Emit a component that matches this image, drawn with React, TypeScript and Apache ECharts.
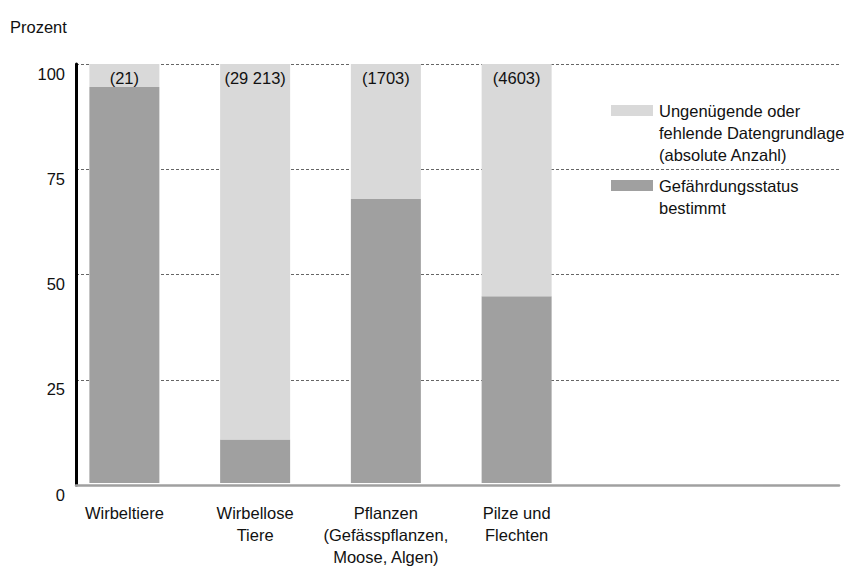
import React, { useEffect, useRef } from "react";
import * as echarts from "echarts";

const categories = [
  "Wirbeltiere",
  "Wirbellose\nTiere",
  "Pflanzen\n(Gefässpflanzen,\nMoose, Algen)",
  "Pilze und\nFlechten",
];
const statusKnown = [94.5, 10.4, 67.8, 44.6];
const insufficient = [5.5, 89.6, 32.2, 55.4];
const counts = ["(21)", "(29 213)", "(1703)", "(4603)"];
const yTicks = [0, 25, 50, 75, 100];
const legendNames = [
  "Ungenügende oder\nfehlende Datengrundlage\n(absolute Anzahl)",
  "Gefährdungsstatus\nbestimmt",
];

const FONT = "'Liberation Sans', Arial, sans-serif";
const FS = 16.5;
const LIGHT = "#d9d9d9";
const DARK = "#a0a0a0";

export default function App() {
  const ref = useRef<HTMLDivElement>(null);
  useEffect(() => {
    if (!ref.current) return;
    const chart = echarts.init(ref.current, undefined, { renderer: "svg" });
    const top = 64;
    const bottom = 83;
    chart.setOption({
      animation: false,
      textStyle: { fontFamily: FONT },
      grid: [
        { left: 76, right: 5, top, bottom, containLabel: false },
        { left: 59, width: 523, top, bottom, containLabel: false },
      ],
      xAxis: [
        {
          gridIndex: 0,
          type: "category",
          data: [""],
          axisLine: { show: true, lineStyle: { color: DARK, width: 2.5 } },
          axisTick: { show: false },
          axisLabel: { show: false },
        },
        {
          gridIndex: 1,
          type: "category",
          data: categories,
          axisLine: { show: false },
          axisTick: { show: false },
          axisLabel: {
            color: "#111",
            fontSize: FS,
            lineHeight: 22,
            margin: 19,
            fontFamily: FONT,
            interval: 0,
          },
        },
      ],
      yAxis: [
        {
          gridIndex: 0,
          type: "value",
          min: yTicks[0],
          max: yTicks[yTicks.length - 1],
          interval: 25,
          axisLine: { show: true, lineStyle: { color: "#000", width: 3 } },
          axisTick: { show: false },
          axisLabel: {
            color: "#111",
            fontSize: FS,
            margin: 11,
            verticalAlign: "top",
            padding: [1, 0, 0, 0],
            fontFamily: FONT,
          },
          splitLine: {
            show: true,
            lineStyle: { color: "#666", type: [3, 2], width: 1 },
          },
        },
        {
          gridIndex: 1,
          type: "value",
          min: 0,
          max: 100,
          show: false,
        },
      ],
      series: [
        {
          name: legendNames[1],
          type: "bar",
          xAxisIndex: 1,
          yAxisIndex: 1,
          stack: "total",
          barWidth: 70,
          itemStyle: { color: DARK },
          data: statusKnown,
        },
        {
          name: legendNames[0],
          type: "bar",
          xAxisIndex: 1,
          yAxisIndex: 1,
          stack: "total",
          barWidth: 70,
          itemStyle: { color: LIGHT },
          data: insufficient,
          label: {
            show: true,
            position: "insideTop",
            distance: 5,
            color: "#111",
            fontSize: FS,
            fontFamily: FONT,
            formatter: (p: any) => counts[p.dataIndex],
          },
        },
      ],
      graphic: [
        {
          type: "text",
          left: 10,
          top: 18,
          style: { text: "Prozent", fontSize: FS, fontFamily: FONT, fill: "#111" },
        },
        {
          type: "rect",
          shape: { x: 611, y: 105, width: 42, height: 11 },
          style: { fill: LIGHT },
        },
        {
          type: "text",
          x: 659,
          y: 100,
          style: {
            text: legendNames[0],
            fontSize: FS,
            lineHeight: 22,
            fontFamily: FONT,
            fill: "#111",
          },
        },
        {
          type: "rect",
          shape: { x: 611, y: 180, width: 42, height: 11 },
          style: { fill: DARK },
        },
        {
          type: "text",
          x: 659,
          y: 175,
          style: {
            text: legendNames[1],
            fontSize: FS,
            lineHeight: 22,
            fontFamily: FONT,
            fill: "#111",
          },
        },
      ],
    });
    return () => chart.dispose();
  }, []);
  return (
    <div
      ref={ref}
      style={{ position: "absolute", left: 0, top: 0, width: 844, height: 568 }}
    />
  );
}
